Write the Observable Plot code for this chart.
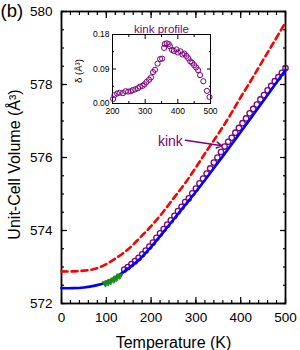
<!DOCTYPE html>
<html><head><meta charset="utf-8">
<script src="https://cdn.jsdelivr.net/npm/d3@7"></script>
<script src="https://cdn.jsdelivr.net/npm/@observablehq/plot@0.6"></script>
<style>
body{margin:0;background:#fff;}
#wrap{position:relative;width:300px;height:350px;font-family:"Liberation Sans",Arial,sans-serif;}
#inset{position:absolute;left:66px;top:18px;}
</style></head><body><div id="wrap"><div id="main"></div><div id="inset"></div></div>
<script>
// ---- data ----
const fitT = [0,25,50,75,100,125,150,175,200,225,250,275,300,325,350,375,400,425,450,475,500];
const blueV = [572.42,572.42,572.44,572.49,572.58,572.75,572.97,573.22,573.55,573.92,574.30,574.68,575.06,575.46,575.87,576.28,576.70,577.12,577.54,577.97,578.40];
const redV = [572.88,572.88,572.90,572.95,573.08,573.27,573.50,573.80,574.12,574.48,574.88,575.28,575.73,576.20,576.65,577.13,577.65,578.15,578.67,579.18,579.70];
const expT = [140,148,156,164,172,180,188,196,204,212,220,228,236,244,252,260,268,276,284,292,300,308,316,324,332,340,348,356,364,372,380,388,396,404,412,420,428,436,444,452,460,468,476,484,492,500];
const expV = [572.93,573.00,573.08,573.16,573.25,573.35,573.45,573.56,573.67,573.80,573.92,574.04,574.16,574.28,574.40,574.53,574.65,574.78,574.88,575.02,575.15,575.29,575.42,575.56,575.70,575.86,576.00,576.15,576.30,576.43,576.54,576.68,576.81,576.94,577.07,577.21,577.33,577.45,577.59,577.71,577.84,577.96,578.09,578.20,578.32,578.45];
const greenT = [98,104,110,117,123,130];
const greenV = [572.55,572.58,572.61,572.65,572.70,572.76];
const kinkT = [202,206,214,222,232,240,248,256,262,270,278,284,292,298,304,312,318,324,330,338,346,352,358,360,366,372,376,382,388,396,400,408,414,420,426,432,438,444,450,456,462,468,478,489,497];
const kinkD = [0.012,0.022,0.026,0.028,0.027,0.032,0.031,0.032,0.035,0.037,0.040,0.044,0.046,0.050,0.056,0.062,0.068,0.082,0.088,0.104,0.116,0.117,0.145,0.155,0.157,0.155,0.149,0.140,0.137,0.141,0.133,0.136,0.128,0.130,0.124,0.118,0.110,0.106,0.100,0.094,0.087,0.074,0.058,0.033,0.017];
const xTicks = [0,100,200,300,400,500];
const yTicks = [572,574,576,578,580];
const insetXTicks = [200,300,400,500];
const insetYTicks = [0,0.09,0.18];

const fit = fitT.map((t,i)=>({t, blue: blueV[i], red: redV[i]}));
const exp = expT.map((t,i)=>({t, v: expV[i]}));
const green = greenT.map((t,i)=>({t, v: greenV[i]}));
const kink = kinkT.map((t,i)=>({t, d: kinkD[i]}));
const xMinor = d3.range(0,501,20);
const yMinor = d3.range(572,580.01,0.5);

const FONT = '"Liberation Sans",Arial,sans-serif';
const PURPLE = "#800080";

const main = Plot.plot({
  width: 300, height: 350,
  marginLeft: 61, marginRight: 15, marginTop: 11, marginBottom: 47,
  style: {fontFamily: FONT, background: "white", overflow: "visible"},
  x: {domain: [0,500]},
  y: {domain: [572,580]},
  marks: [
    Plot.axisX(xMinor, {anchor:"bottom", tickSize:-3, fill:"none", strokeWidth:1.2}),
    Plot.axisX(xTicks, {anchor:"bottom", tickSize:-6, fill:"none", strokeWidth:1.2}),
    Plot.axisX(xMinor, {anchor:"top", tickSize:-3, fill:"none", strokeWidth:1.2}),
    Plot.axisX(xTicks, {anchor:"top", tickSize:-6, fill:"none", strokeWidth:1.2}),
    Plot.axisY(yMinor, {anchor:"left", tickSize:-3, fill:"none", strokeWidth:1.2}),
    Plot.axisY(yTicks, {anchor:"left", tickSize:-6, fill:"none", strokeWidth:1.2}),
    Plot.axisY(yMinor, {anchor:"right", tickSize:-3, fill:"none", strokeWidth:1.2}),
    Plot.axisY(yTicks, {anchor:"right", tickSize:-6, fill:"none", strokeWidth:1.2}),
    Plot.axisX(xTicks, {anchor:"bottom", tickSize:0, tickPadding:9, fontSize:13.5, label:null, fill:"black"}),
    Plot.axisY(yTicks, {anchor:"left", tickSize:0, tickPadding:9, fontSize:13.5, label:null, fill:"black"}),
    Plot.frame({stroke:"black", strokeWidth:1.8}),
    Plot.line(fit, {x:"t", y:"red", stroke:"#ff0000", strokeWidth:2.6, strokeDasharray:"6,4", curve:"catmull-rom"}),
    Plot.dot(exp, {x:"t", y:"v", r:2.7, stroke:PURPLE, strokeWidth:1.3, fill:"none"}),
    Plot.line(fit, {x:"t", y:"blue", stroke:"#0000ff", strokeWidth:2.6, curve:"catmull-rom"}),
    Plot.dot(green, {x:"t", y:"v", symbol:"triangle", rotate:180, r:2.4, fill:"#1a8c1a", stroke:"#1a8c1a", strokeWidth:0.8}),
    Plot.arrow([{x1:277, y1:576.47, x2:358, y2:576.32}], {x1:"x1", y1:"y1", x2:"x2", y2:"y2", stroke:PURPLE, strokeWidth:1.5, headLength:6}),
    Plot.text(["kink"], {x:243, y:576.45, text:d=>d, fill:PURPLE, fontSize:14, textAnchor:"middle"}),
    Plot.text(["Temperature (K)"], {frameAnchor:"bottom", dy:44, lineAnchor:"bottom", textAnchor:"middle", text:d=>d, fontSize:16, fill:"black"}),
    Plot.text(["Unit-Cell Volume (Å³)"], {frameAnchor:"left", dx:-47, dy:7, rotate:-90, textAnchor:"middle", lineAnchor:"middle", text:d=>d, fontSize:16, fill:"black"}),
    Plot.text(["(b)"], {frameAnchor:"top-left", dx:-61, dy:-8, lineAnchor:"top", textAnchor:"start", text:d=>d, fontSize:18.5, fill:"black"})
  ]
});
document.getElementById("main").append(main);

const inset = Plot.plot({
  width: 150, height: 100,
  marginLeft: 46, marginRight: 6, marginTop: 16, marginBottom: 15,
  style: {fontFamily: FONT, background: "transparent", overflow: "visible"},
  x: {domain: [200,500]},
  y: {domain: [0,0.18]},
  marks: [
    Plot.axisX([250,350,450], {anchor:"bottom", tickSize:-2, fill:"none"}),
    Plot.axisX(insetXTicks, {anchor:"bottom", tickSize:-4, fill:"none"}),
    Plot.axisX([250,350,450], {anchor:"top", tickSize:-2, fill:"none"}),
    Plot.axisX(insetXTicks, {anchor:"top", tickSize:-4, fill:"none"}),
    Plot.axisY([0.045,0.135], {anchor:"left", tickSize:-2, fill:"none"}),
    Plot.axisY(insetYTicks, {anchor:"left", tickSize:-4, fill:"none"}),
    Plot.axisY([0.045,0.135], {anchor:"right", tickSize:-2, fill:"none"}),
    Plot.axisY(insetYTicks, {anchor:"right", tickSize:-4, fill:"none"}),
    Plot.axisX(insetXTicks, {anchor:"bottom", tickSize:0, tickPadding:4, fontSize:8.5, label:null, fill:"black"}),
    Plot.axisY(insetYTicks, {anchor:"left", tickSize:0, tickPadding:3, fontSize:8.5, label:null, fill:"black", tickFormat:d3.format(".2f")}),
    Plot.frame({stroke:"black", strokeWidth:1}),
    Plot.dot(kink, {x:"t", y:"d", r:2.6, stroke:PURPLE, strokeWidth:1, fill:"none"}),
    Plot.text(["kink profile"], {frameAnchor:"top", dy:-2, lineAnchor:"bottom", textAnchor:"middle", text:d=>d, fill:PURPLE, fontSize:11.5}),
    Plot.text(["δ (Å³)"], {frameAnchor:"left", dx:-34, dy:2, rotate:-90, textAnchor:"middle", lineAnchor:"middle", text:d=>d, fontSize:9.5, fill:"black"})
  ]
});
document.getElementById("inset").append(inset);
</script></body></html>
